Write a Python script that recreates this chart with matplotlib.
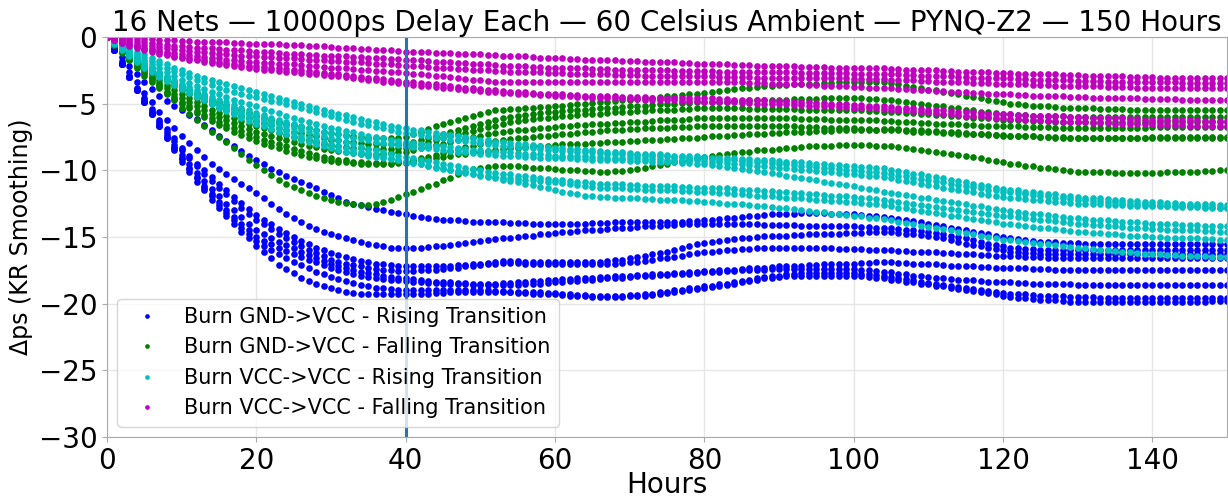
import numpy as np
import matplotlib.pyplot as plt

# Smoothed delay change (ps) of each net, one reading per hour from 0 to 150 h

# Burn GND->VCC, rising transition
gnd_rising = [
    [0.0, -0.8, -1.5, -2.2, -2.8, -3.4, -3.9, -4.4, -4.8, -5.2,
     -5.5, -5.85, -6.15, -6.6, -7.0, -7.4, -7.8, -8.2, -8.55, -8.9,
     -9.2, -9.55, -9.9, -10.15, -10.4, -10.65, -10.9, -11.1, -11.35, -11.6,
     -11.85, -12.1, -12.35, -12.5, -12.6, -12.75, -12.9, -13.0, -13.1, -13.2,
     -13.3, -13.4, -13.5, -13.55, -13.65, -13.7, -13.75, -13.75, -13.8, -13.85,
     -13.85, -13.9, -13.9, -13.9, -13.95, -13.95, -13.95, -14.0, -14.0, -14.0,
     -14.0, -14.0, -14.0, -14.0, -14.0, -13.95, -13.95, -13.95, -13.9, -13.9,
     -13.9, -13.9, -13.9, -13.9, -13.85, -13.85, -13.85, -13.85, -13.8, -13.8,
     -13.75, -13.7, -13.65, -13.6, -13.55, -13.5, -13.45, -13.4, -13.35, -13.3,
     -13.3, -13.25, -13.25, -13.2, -13.2, -13.2, -13.2, -13.25, -13.25, -13.3,
     -13.3, -13.35, -13.4, -13.45, -13.5, -13.6, -13.65, -13.7, -13.8, -13.9,
     -14.0, -14.1, -14.2, -14.3, -14.4, -14.5, -14.6, -14.7, -14.8, -14.9,
     -15.0, -15.1, -15.15, -15.2, -15.3, -15.35, -15.4, -15.4, -15.45, -15.45,
     -15.45, -15.5, -15.5, -15.5, -15.5, -15.5, -15.5, -15.5, -15.5, -15.5,
     -15.5, -15.5, -15.5, -15.5, -15.5, -15.5, -15.5, -15.5, -15.5, -15.5,
     -15.5],
    [0.0, -0.9, -1.8, -2.6, -3.4, -4.2, -4.9, -5.6, -6.2, -6.8,
     -7.4, -7.95, -8.5, -9.0, -9.5, -9.9, -10.3, -10.65, -11.0, -11.35,
     -11.7, -12.1, -12.5, -12.9, -13.25, -13.6, -13.9, -14.15, -14.4, -14.6,
     -14.8, -14.95, -15.1, -15.25, -15.4, -15.5, -15.6, -15.7, -15.8, -15.85,
     -15.85, -15.85, -15.8, -15.75, -15.7, -15.65, -15.6, -15.5, -15.45, -15.35,
     -15.3, -15.25, -15.15, -15.1, -15.05, -15.0, -14.95, -14.9, -14.8, -14.75,
     -14.7, -14.65, -14.6, -14.55, -14.5, -14.5, -14.45, -14.4, -14.35, -14.3,
     -14.3, -14.25, -14.2, -14.2, -14.15, -14.1, -14.1, -14.05, -14.0, -14.0,
     -14.0, -14.0, -14.0, -14.0, -14.05, -14.05, -14.05, -14.05, -14.1, -14.1,
     -14.1, -14.1, -14.1, -14.15, -14.15, -14.15, -14.15, -14.2, -14.2, -14.2,
     -14.2, -14.25, -14.25, -14.3, -14.3, -14.35, -14.4, -14.45, -14.5, -14.55,
     -14.6, -14.7, -14.8, -14.9, -15.0, -15.1, -15.2, -15.35, -15.5, -15.6,
     -15.7, -15.8, -15.85, -15.9, -15.9, -15.95, -15.95, -15.95, -16.0, -16.0,
     -16.0, -16.0, -16.0, -16.0, -16.0, -16.0, -16.0, -16.0, -16.0, -16.0,
     -16.0, -16.0, -16.0, -16.0, -16.0, -16.0, -16.0, -16.0, -16.0, -16.0,
     -16.0],
    [0.0, -1.0, -2.0, -2.9, -3.8, -4.6, -5.4, -6.2, -6.9, -7.6,
     -8.3, -8.9, -9.5, -10.0, -10.5, -11.0, -11.5, -12.0, -12.45, -12.9,
     -13.35, -13.7, -14.05, -14.4, -14.7, -15.0, -15.3, -15.55, -15.8, -16.0,
     -16.2, -16.35, -16.5, -16.65, -16.8, -16.9, -17.0, -17.05, -17.1, -17.15,
     -17.2, -17.2, -17.2, -17.2, -17.2, -17.2, -17.15, -17.1, -17.1, -17.05,
     -17.0, -16.95, -16.85, -16.8, -16.8, -16.8, -16.85, -16.85, -16.9, -16.9,
     -16.9, -16.9, -16.9, -16.9, -16.9, -16.9, -16.85, -16.8, -16.75, -16.7,
     -16.6, -16.5, -16.4, -16.3, -16.2, -16.1, -16.0, -15.85, -15.7, -15.5,
     -15.45, -15.4, -15.3, -15.25, -15.15, -15.1, -15.05, -15.0, -14.95, -14.9,
     -14.9, -14.9, -14.85, -14.85, -14.8, -14.8, -14.8, -14.75, -14.75, -14.7,
     -14.7, -14.7, -14.65, -14.65, -14.6, -14.65, -14.7, -14.75, -14.8, -14.85,
     -14.9, -15.0, -15.1, -15.25, -15.4, -15.5, -15.6, -15.7, -15.8, -15.9,
     -16.0, -16.1, -16.15, -16.2, -16.2, -16.25, -16.25, -16.25, -16.3, -16.3,
     -16.3, -16.3, -16.3, -16.3, -16.3, -16.3, -16.3, -16.3, -16.3, -16.3,
     -16.3, -16.3, -16.3, -16.3, -16.3, -16.3, -16.3, -16.3, -16.3, -16.3,
     -16.3],
    [0.0, -1.0, -2.0, -3.0, -3.9, -4.75, -5.55, -6.35, -7.1, -7.8,
     -8.5, -9.1, -9.7, -10.25, -10.8, -11.3, -11.8, -12.3, -12.8, -13.25,
     -13.7, -14.05, -14.4, -14.75, -15.1, -15.4, -15.7, -15.95, -16.2, -16.45,
     -16.7, -16.85, -17.0, -17.1, -17.2, -17.3, -17.4, -17.45, -17.5, -17.55,
     -17.55, -17.55, -17.5, -17.5, -17.45, -17.4, -17.35, -17.3, -17.2, -17.15,
     -17.1, -17.05, -17.0, -16.95, -16.95, -16.95, -17.0, -17.0, -17.0, -17.0,
     -17.05, -17.05, -17.05, -17.05, -17.05, -17.05, -17.05, -17.0, -17.0, -16.95,
     -16.9, -16.85, -16.8, -16.7, -16.6, -16.55, -16.5, -16.4, -16.3, -16.2,
     -16.15, -16.1, -16.05, -16.0, -15.95, -15.9, -15.9, -15.85, -15.85, -15.8,
     -15.8, -15.8, -15.8, -15.8, -15.85, -15.85, -15.85, -15.85, -15.9, -15.9,
     -15.9, -15.9, -15.95, -15.95, -16.0, -16.0, -16.05, -16.05, -16.1, -16.1,
     -16.15, -16.15, -16.2, -16.2, -16.25, -16.3, -16.3, -16.35, -16.35, -16.4,
     -16.4, -16.45, -16.45, -16.5, -16.5, -16.5, -16.55, -16.55, -16.55, -16.6,
     -16.6, -16.6, -16.6, -16.6, -16.6, -16.6, -16.6, -16.6, -16.6, -16.6,
     -16.6, -16.6, -16.6, -16.6, -16.6, -16.6, -16.6, -16.6, -16.6, -16.6,
     -16.6],
    [0.0, -1.0, -2.0, -3.0, -3.95, -4.85, -5.7, -6.55, -7.35, -8.1,
     -8.85, -9.55, -10.2, -10.8, -11.4, -11.95, -12.5, -13.0, -13.5, -14.0,
     -14.5, -14.8, -15.1, -15.35, -15.6, -15.85, -16.1, -16.35, -16.6, -16.8,
     -17.0, -17.15, -17.3, -17.45, -17.6, -17.7, -17.8, -17.9, -18.0, -18.05,
     -18.1, -18.15, -18.2, -18.3, -18.35, -18.4, -18.4, -18.45, -18.45, -18.5,
     -18.5, -18.5, -18.5, -18.45, -18.45, -18.4, -18.35, -18.3, -18.3, -18.25,
     -18.2, -18.15, -18.15, -18.1, -18.1, -18.05, -18.0, -18.0, -17.95, -17.95,
     -17.9, -17.85, -17.85, -17.8, -17.8, -17.75, -17.7, -17.7, -17.65, -17.6,
     -17.55, -17.55, -17.5, -17.45, -17.45, -17.4, -17.35, -17.3, -17.3, -17.25,
     -17.2, -17.2, -17.15, -17.15, -17.1, -17.1, -17.05, -17.05, -17.0, -17.0,
     -17.0, -16.95, -16.95, -16.9, -16.9, -16.9, -16.95, -16.95, -17.0, -17.0,
     -17.05, -17.05, -17.1, -17.15, -17.15, -17.2, -17.2, -17.25, -17.25, -17.3,
     -17.3, -17.3, -17.35, -17.35, -17.4, -17.4, -17.4, -17.45, -17.45, -17.45,
     -17.5, -17.5, -17.5, -17.5, -17.5, -17.5, -17.5, -17.5, -17.5, -17.5,
     -17.5, -17.5, -17.5, -17.5, -17.5, -17.5, -17.5, -17.5, -17.5, -17.5,
     -17.5],
    [0.0, -1.0, -2.0, -3.0, -4.0, -4.9, -5.8, -6.65, -7.5, -8.3,
     -9.05, -9.8, -10.5, -11.15, -11.8, -12.4, -13.0, -13.5, -14.0, -14.5,
     -15.0, -15.3, -15.55, -15.8, -16.05, -16.3, -16.5, -16.7, -16.9, -17.1,
     -17.3, -17.45, -17.6, -17.75, -17.9, -18.0, -18.1, -18.15, -18.2, -18.25,
     -18.3, -18.35, -18.4, -18.45, -18.45, -18.5, -18.5, -18.55, -18.55, -18.6,
     -18.6, -18.6, -18.6, -18.6, -18.6, -18.6, -18.55, -18.5, -18.5, -18.45,
     -18.4, -18.35, -18.3, -18.3, -18.25, -18.2, -18.15, -18.1, -18.1, -18.05,
     -18.0, -17.95, -17.95, -17.9, -17.85, -17.85, -17.8, -17.8, -17.75, -17.7,
     -17.65, -17.65, -17.6, -17.55, -17.55, -17.5, -17.5, -17.45, -17.45, -17.4,
     -17.4, -17.4, -17.4, -17.4, -17.4, -17.4, -17.4, -17.4, -17.4, -17.4,
     -17.4, -17.45, -17.5, -17.55, -17.6, -17.65, -17.75, -17.8, -17.9, -17.95,
     -18.0, -18.05, -18.1, -18.15, -18.2, -18.2, -18.25, -18.3, -18.35, -18.35,
     -18.4, -18.4, -18.45, -18.45, -18.5, -18.5, -18.5, -18.55, -18.55, -18.55,
     -18.6, -18.6, -18.6, -18.6, -18.6, -18.6, -18.6, -18.6, -18.6, -18.6,
     -18.6, -18.6, -18.6, -18.6, -18.6, -18.6, -18.6, -18.6, -18.6, -18.6,
     -18.6],
    [0.0, -1.0, -2.0, -3.0, -4.0, -4.9, -5.8, -6.7, -7.55, -8.35,
     -9.15, -9.9, -10.6, -11.3, -11.95, -12.6, -13.2, -13.75, -14.3, -14.8,
     -15.3, -15.65, -15.95, -16.25, -16.55, -16.85, -17.1, -17.35, -17.6, -17.8,
     -18.0, -18.15, -18.3, -18.45, -18.6, -18.7, -18.8, -18.85, -18.9, -18.95,
     -19.0, -19.0, -19.0, -19.0, -19.0, -19.0, -19.0, -19.0, -19.0, -19.0,
     -19.0, -19.0, -19.05, -19.05, -19.1, -19.1, -19.1, -19.15, -19.15, -19.2,
     -19.2, -19.25, -19.3, -19.35, -19.35, -19.4, -19.4, -19.4, -19.4, -19.4,
     -19.35, -19.35, -19.3, -19.25, -19.15, -19.1, -19.0, -18.95, -18.85, -18.8,
     -18.7, -18.65, -18.55, -18.5, -18.4, -18.3, -18.2, -18.1, -18.0, -17.95,
     -17.9, -17.8, -17.75, -17.7, -17.7, -17.7, -17.7, -17.7, -17.7, -17.7,
     -17.7, -17.75, -17.8, -17.85, -17.9, -18.0, -18.1, -18.15, -18.25, -18.35,
     -18.45, -18.5, -18.6, -18.7, -18.75, -18.85, -18.9, -19.0, -19.05, -19.1,
     -19.2, -19.25, -19.3, -19.3, -19.35, -19.4, -19.4, -19.45, -19.45, -19.5,
     -19.5, -19.5, -19.5, -19.55, -19.55, -19.55, -19.6, -19.6, -19.6, -19.6,
     -19.6, -19.6, -19.6, -19.6, -19.6, -19.6, -19.6, -19.6, -19.6, -19.6,
     -19.6],
    [0.0, -1.0, -2.0, -3.0, -4.0, -4.9, -5.8, -6.7, -7.6, -8.5,
     -9.35, -10.1, -10.85, -11.5, -12.2, -12.8, -13.4, -14.0, -14.6, -15.1,
     -15.7, -16.1, -16.6, -17.1, -17.4, -17.7, -18.1, -18.3, -18.5, -18.7,
     -18.85, -19.0, -19.1, -19.2, -19.25, -19.3, -19.3, -19.3, -19.3, -19.3,
     -19.3, -19.3, -19.25, -19.25, -19.2, -19.2, -19.15, -19.15, -19.1, -19.1,
     -19.1, -19.1, -19.1, -19.15, -19.15, -19.2, -19.2, -19.25, -19.25, -19.3,
     -19.3, -19.35, -19.4, -19.4, -19.45, -19.5, -19.5, -19.5, -19.5, -19.5,
     -19.45, -19.45, -19.4, -19.35, -19.3, -19.2, -19.1, -19.05, -18.95, -18.9,
     -18.8, -18.75, -18.65, -18.6, -18.5, -18.4, -18.3, -18.2, -18.1, -18.05,
     -18.0, -17.95, -17.9, -17.9, -17.9, -17.9, -17.9, -17.9, -17.9, -17.9,
     -17.9, -17.95, -18.0, -18.05, -18.1, -18.2, -18.25, -18.35, -18.4, -18.5,
     -18.55, -18.65, -18.7, -18.8, -18.9, -18.95, -19.05, -19.1, -19.2, -19.3,
     -19.4, -19.5, -19.55, -19.6, -19.65, -19.7, -19.7, -19.75, -19.8, -19.85,
     -19.9, -19.9, -19.9, -19.9, -19.9, -19.9, -19.9, -19.9, -19.9, -19.9,
     -19.9, -19.9, -19.9, -19.9, -19.9, -19.85, -19.85, -19.85, -19.8, -19.8,
     -19.8],
]

# Burn GND->VCC, falling transition
gnd_falling = [
    [0.0, -0.4, -0.8, -1.2, -1.6, -2.0, -2.35, -2.7, -3.05, -3.4,
     -3.7, -3.95, -4.2, -4.45, -4.7, -4.9, -5.1, -5.3, -5.5, -5.7,
     -5.9, -6.05, -6.2, -6.35, -6.5, -6.6, -6.75, -6.85, -6.95, -7.1,
     -7.2, -7.3, -7.35, -7.45, -7.5, -7.55, -7.6, -7.6, -7.6, -7.55,
     -7.5, -7.3, -7.1, -6.9, -6.7, -6.55, -6.4, -6.25, -6.1, -5.95,
     -5.8, -5.65, -5.5, -5.45, -5.4, -5.4, -5.35, -5.3, -5.25, -5.25,
     -5.2, -5.15, -5.1, -5.05, -5.0, -4.95, -4.9, -4.85, -4.8, -4.75,
     -4.7, -4.65, -4.6, -4.55, -4.5, -4.45, -4.4, -4.35, -4.3, -4.25,
     -4.2, -4.1, -4.05, -3.95, -3.9, -3.85, -3.8, -3.75, -3.7, -3.65,
     -3.6, -3.6, -3.55, -3.55, -3.5, -3.5, -3.45, -3.45, -3.4, -3.4,
     -3.4, -3.4, -3.35, -3.35, -3.35, -3.45, -3.55, -3.65, -3.75, -3.85,
     -3.95, -4.0, -4.1, -4.2, -4.3, -4.4, -4.5, -4.6, -4.7, -4.8,
     -4.9, -5.0, -5.05, -5.1, -5.15, -5.2, -5.2, -5.25, -5.3, -5.3,
     -5.35, -5.35, -5.35, -5.4, -5.4, -5.4, -5.4, -5.45, -5.45, -5.45,
     -5.45, -5.45, -5.5, -5.5, -5.5, -5.5, -5.5, -5.5, -5.5, -5.5,
     -5.5],
    [0.0, -0.45, -0.9, -1.35, -1.8, -2.2, -2.6, -2.95, -3.3, -3.65,
     -4.0, -4.3, -4.55, -4.8, -5.05, -5.3, -5.5, -5.7, -5.9, -6.1,
     -6.3, -6.45, -6.6, -6.8, -6.95, -7.1, -7.2, -7.35, -7.45, -7.6,
     -7.7, -7.75, -7.85, -7.9, -7.95, -8.0, -8.0, -8.05, -8.05, -8.05,
     -8.0, -7.9, -7.75, -7.6, -7.45, -7.3, -7.15, -7.0, -6.85, -6.65,
     -6.5, -6.35, -6.25, -6.1, -6.0, -5.9, -5.85, -5.75, -5.7, -5.65,
     -5.6, -5.55, -5.5, -5.5, -5.45, -5.4, -5.35, -5.3, -5.3, -5.25,
     -5.2, -5.15, -5.15, -5.1, -5.05, -5.05, -5.0, -4.95, -4.95, -4.9,
     -4.9, -4.9, -4.85, -4.85, -4.8, -4.8, -4.75, -4.75, -4.7, -4.7,
     -4.7, -4.7, -4.65, -4.65, -4.65, -4.65, -4.6, -4.6, -4.6, -4.6,
     -4.6, -4.6, -4.65, -4.65, -4.7, -4.75, -4.8, -4.9, -4.95, -5.0,
     -5.1, -5.15, -5.2, -5.3, -5.35, -5.45, -5.5, -5.6, -5.65, -5.7,
     -5.75, -5.8, -5.85, -5.85, -5.9, -5.9, -5.95, -5.95, -5.95, -6.0,
     -6.0, -6.0, -6.0, -6.0, -6.0, -6.0, -6.0, -6.0, -6.0, -6.0,
     -6.0, -6.0, -6.0, -6.0, -6.0, -6.0, -6.0, -6.0, -6.0, -6.0,
     -6.0],
    [0.0, -0.5, -1.0, -1.45, -1.95, -2.4, -2.8, -3.2, -3.6, -3.95,
     -4.3, -4.6, -4.9, -5.2, -5.45, -5.7, -5.9, -6.1, -6.3, -6.5,
     -6.7, -6.85, -7.0, -7.2, -7.35, -7.5, -7.65, -7.75, -7.9, -8.0,
     -8.1, -8.15, -8.25, -8.3, -8.35, -8.4, -8.4, -8.4, -8.4, -8.35,
     -8.3, -8.15, -8.0, -7.9, -7.75, -7.6, -7.45, -7.3, -7.2, -7.05,
     -6.9, -6.75, -6.65, -6.5, -6.4, -6.3, -6.25, -6.15, -6.1, -6.05,
     -6.0, -5.95, -5.9, -5.85, -5.8, -5.8, -5.75, -5.7, -5.65, -5.6,
     -5.6, -5.55, -5.55, -5.5, -5.5, -5.45, -5.45, -5.4, -5.4, -5.35,
     -5.35, -5.35, -5.35, -5.35, -5.35, -5.35, -5.4, -5.4, -5.4, -5.4,
     -5.4, -5.4, -5.4, -5.45, -5.45, -5.45, -5.45, -5.5, -5.5, -5.5,
     -5.5, -5.5, -5.55, -5.55, -5.6, -5.6, -5.65, -5.7, -5.7, -5.75,
     -5.8, -5.85, -5.85, -5.9, -5.95, -6.0, -6.05, -6.1, -6.1, -6.15,
     -6.2, -6.2, -6.25, -6.25, -6.3, -6.3, -6.3, -6.35, -6.35, -6.35,
     -6.35, -6.35, -6.35, -6.35, -6.35, -6.35, -6.35, -6.35, -6.35, -6.35,
     -6.35, -6.35, -6.35, -6.35, -6.35, -6.35, -6.35, -6.35, -6.35, -6.35,
     -6.35],
    [0.0, -0.55, -1.05, -1.6, -2.1, -2.6, -3.05, -3.45, -3.85, -4.25,
     -4.6, -4.9, -5.2, -5.5, -5.75, -6.0, -6.25, -6.45, -6.7, -6.9,
     -7.1, -7.25, -7.4, -7.6, -7.75, -7.9, -8.0, -8.15, -8.25, -8.4,
     -8.5, -8.55, -8.65, -8.7, -8.75, -8.8, -8.8, -8.75, -8.7, -8.65,
     -8.6, -8.5, -8.35, -8.25, -8.1, -8.0, -7.85, -7.75, -7.6, -7.5,
     -7.4, -7.3, -7.2, -7.15, -7.05, -7.0, -6.95, -6.9, -6.85, -6.8,
     -6.75, -6.7, -6.65, -6.6, -6.6, -6.55, -6.5, -6.5, -6.45, -6.45,
     -6.4, -6.35, -6.35, -6.3, -6.25, -6.25, -6.2, -6.2, -6.15, -6.1,
     -6.1, -6.1, -6.1, -6.1, -6.1, -6.1, -6.1, -6.1, -6.1, -6.1,
     -6.1, -6.1, -6.1, -6.15, -6.15, -6.15, -6.15, -6.2, -6.2, -6.2,
     -6.2, -6.2, -6.25, -6.25, -6.3, -6.3, -6.35, -6.4, -6.4, -6.45,
     -6.45, -6.5, -6.5, -6.55, -6.55, -6.6, -6.6, -6.65, -6.65, -6.7,
     -6.7, -6.7, -6.7, -6.75, -6.75, -6.75, -6.75, -6.8, -6.8, -6.8,
     -6.8, -6.8, -6.8, -6.8, -6.8, -6.8, -6.8, -6.8, -6.8, -6.8,
     -6.75, -6.75, -6.75, -6.75, -6.75, -6.75, -6.75, -6.75, -6.75, -6.75,
     -6.75],
    [0.0, -0.6, -1.15, -1.7, -2.25, -2.8, -3.25, -3.7, -4.1, -4.5,
     -4.9, -5.2, -5.55, -5.85, -6.1, -6.4, -6.6, -6.85, -7.05, -7.3,
     -7.5, -7.7, -7.85, -8.05, -8.2, -8.4, -8.55, -8.7, -8.85, -9.0,
     -9.1, -9.2, -9.25, -9.35, -9.4, -9.45, -9.45, -9.45, -9.45, -9.4,
     -9.4, -9.25, -9.1, -9.0, -8.85, -8.7, -8.55, -8.4, -8.25, -8.15,
     -8.0, -7.9, -7.8, -7.75, -7.65, -7.6, -7.55, -7.5, -7.45, -7.4,
     -7.35, -7.3, -7.25, -7.2, -7.15, -7.1, -7.05, -7.0, -6.95, -6.95,
     -6.9, -6.9, -6.85, -6.85, -6.8, -6.8, -6.75, -6.75, -6.75, -6.7,
     -6.7, -6.7, -6.7, -6.7, -6.7, -6.7, -6.7, -6.7, -6.7, -6.7,
     -6.7, -6.7, -6.7, -6.75, -6.75, -6.75, -6.8, -6.8, -6.8, -6.85,
     -6.85, -6.9, -6.9, -6.95, -6.95, -7.0, -7.0, -7.05, -7.1, -7.1,
     -7.15, -7.15, -7.2, -7.2, -7.25, -7.25, -7.3, -7.3, -7.35, -7.35,
     -7.4, -7.4, -7.4, -7.45, -7.45, -7.5, -7.5, -7.5, -7.5, -7.55,
     -7.55, -7.55, -7.55, -7.55, -7.55, -7.55, -7.55, -7.55, -7.55, -7.55,
     -7.5, -7.5, -7.5, -7.5, -7.5, -7.5, -7.5, -7.5, -7.5, -7.5,
     -7.5],
    [0.0, -0.6, -1.2, -1.75, -2.35, -2.9, -3.4, -3.85, -4.25, -4.65,
     -5.0, -5.35, -5.7, -6.0, -6.3, -6.6, -6.85, -7.1, -7.35, -7.6,
     -7.8, -8.0, -8.2, -8.35, -8.55, -8.7, -8.85, -9.0, -9.1, -9.2,
     -9.3, -9.35, -9.4, -9.45, -9.5, -9.5, -9.5, -9.5, -9.5, -9.45,
     -9.45, -9.35, -9.25, -9.2, -9.1, -9.0, -8.9, -8.8, -8.75, -8.65,
     -8.6, -8.55, -8.5, -8.4, -8.35, -8.3, -8.25, -8.2, -8.15, -8.15,
     -8.1, -8.05, -8.05, -8.0, -8.0, -7.95, -7.95, -7.9, -7.9, -7.85,
     -7.8, -7.8, -7.75, -7.75, -7.7, -7.65, -7.65, -7.6, -7.55, -7.55,
     -7.5, -7.45, -7.45, -7.4, -7.35, -7.35, -7.3, -7.3, -7.25, -7.2,
     -7.2, -7.15, -7.15, -7.1, -7.1, -7.05, -7.05, -7.05, -7.0, -7.0,
     -7.0, -6.95, -6.95, -6.95, -6.9, -6.9, -6.9, -6.95, -6.95, -7.0,
     -7.05, -7.05, -7.1, -7.15, -7.15, -7.2, -7.25, -7.3, -7.3, -7.35,
     -7.35, -7.4, -7.4, -7.45, -7.45, -7.5, -7.5, -7.55, -7.55, -7.55,
     -7.6, -7.6, -7.6, -7.6, -7.6, -7.6, -7.6, -7.6, -7.6, -7.6,
     -7.6, -7.6, -7.6, -7.6, -7.6, -7.6, -7.6, -7.6, -7.6, -7.6,
     -7.6],
    [0.0, -0.45, -0.9, -1.4, -1.9, -2.45, -3.0, -3.6, -4.2, -4.75,
     -5.3, -5.75, -6.2, -6.65, -7.1, -7.5, -7.9, -8.35, -8.8, -9.2,
     -9.6, -10.0, -10.35, -10.7, -11.0, -11.25, -11.5, -11.7, -11.9, -12.1,
     -12.2, -12.35, -12.45, -12.55, -12.6, -12.6, -12.5, -12.4, -12.2, -12.0,
     -11.8, -11.6, -11.4, -11.2, -11.0, -10.75, -10.55, -10.3, -10.1, -9.9,
     -9.8, -9.75, -9.7, -9.7, -9.7, -9.7, -9.75, -9.8, -9.8, -9.85,
     -9.9, -9.95, -9.95, -10.0, -10.05, -10.05, -10.1, -10.1, -10.05, -10.05,
     -10.0, -9.9, -9.8, -9.7, -9.6, -9.5, -9.4, -9.3, -9.2, -9.1,
     -9.0, -8.9, -8.85, -8.75, -8.7, -8.65, -8.6, -8.5, -8.45, -8.45,
     -8.4, -8.35, -8.3, -8.25, -8.2, -8.2, -8.15, -8.15, -8.1, -8.1,
     -8.1, -8.1, -8.1, -8.15, -8.15, -8.2, -8.25, -8.3, -8.4, -8.5,
     -8.55, -8.6, -8.7, -8.8, -8.85, -8.95, -9.0, -9.1, -9.2, -9.3,
     -9.4, -9.5, -9.55, -9.65, -9.7, -9.8, -9.85, -9.9, -10.0, -10.05,
     -10.1, -10.1, -10.15, -10.15, -10.15, -10.2, -10.2, -10.2, -10.2, -10.2,
     -10.2, -10.2, -10.15, -10.15, -10.1, -10.1, -10.1, -10.05, -10.05, -10.0,
     -10.0],
]

# Burn VCC->VCC, rising transition
vcc_rising = [
    [0.0, -0.3, -0.6, -0.85, -1.1, -1.3, -1.55, -1.8, -2.05, -2.3,
     -2.5, -2.7, -2.9, -3.05, -3.25, -3.4, -3.55, -3.7, -3.85, -3.95,
     -4.1, -4.25, -4.4, -4.55, -4.75, -4.9, -5.05, -5.2, -5.3, -5.45,
     -5.6, -5.75, -5.85, -6.0, -6.15, -6.3, -6.4, -6.5, -6.65, -6.75,
     -6.85, -6.95, -7.0, -7.1, -7.2, -7.25, -7.35, -7.45, -7.5, -7.6,
     -7.7, -7.75, -7.85, -7.9, -7.95, -8.0, -8.05, -8.1, -8.2, -8.25,
     -8.3, -8.35, -8.4, -8.4, -8.45, -8.5, -8.55, -8.6, -8.6, -8.65,
     -8.7, -8.75, -8.75, -8.8, -8.8, -8.85, -8.9, -8.9, -8.95, -8.95,
     -9.0, -9.05, -9.05, -9.1, -9.1, -9.15, -9.15, -9.2, -9.25, -9.25,
     -9.3, -9.35, -9.4, -9.4, -9.45, -9.5, -9.55, -9.6, -9.6, -9.65,
     -9.7, -9.75, -9.75, -9.8, -9.85, -9.95, -10.05, -10.15, -10.25, -10.3,
     -10.4, -10.5, -10.6, -10.7, -10.8, -10.9, -11.0, -11.1, -11.2, -11.3,
     -11.4, -11.45, -11.5, -11.6, -11.65, -11.7, -11.75, -11.8, -11.9, -11.95,
     -12.0, -12.05, -12.1, -12.1, -12.15, -12.2, -12.25, -12.3, -12.3, -12.35,
     -12.4, -12.4, -12.45, -12.45, -12.5, -12.5, -12.5, -12.55, -12.55, -12.6,
     -12.6],
    [0.0, -0.35, -0.65, -0.95, -1.25, -1.5, -1.8, -2.05, -2.3, -2.55,
     -2.8, -3.0, -3.2, -3.4, -3.6, -3.8, -3.95, -4.1, -4.25, -4.4,
     -4.5, -4.65, -4.8, -4.9, -5.05, -5.2, -5.3, -5.45, -5.6, -5.75,
     -5.9, -6.05, -6.2, -6.35, -6.5, -6.6, -6.75, -6.85, -7.0, -7.1,
     -7.2, -7.3, -7.35, -7.45, -7.55, -7.6, -7.7, -7.75, -7.8, -7.9,
     -7.95, -8.05, -8.1, -8.15, -8.2, -8.25, -8.3, -8.35, -8.4, -8.45,
     -8.5, -8.55, -8.55, -8.6, -8.65, -8.65, -8.7, -8.75, -8.75, -8.8,
     -8.85, -8.85, -8.9, -8.9, -8.95, -8.95, -9.0, -9.0, -9.05, -9.05,
     -9.1, -9.15, -9.2, -9.2, -9.25, -9.3, -9.35, -9.4, -9.4, -9.45,
     -9.5, -9.55, -9.6, -9.65, -9.7, -9.75, -9.8, -9.85, -9.9, -9.95,
     -10.0, -10.05, -10.1, -10.15, -10.2, -10.3, -10.4, -10.45, -10.55, -10.65,
     -10.75, -10.8, -10.9, -11.0, -11.1, -11.15, -11.25, -11.35, -11.45, -11.5,
     -11.6, -11.65, -11.7, -11.8, -11.85, -11.9, -11.95, -12.05, -12.1, -12.15,
     -12.2, -12.25, -12.3, -12.3, -12.35, -12.4, -12.45, -12.5, -12.5, -12.55,
     -12.6, -12.6, -12.65, -12.65, -12.7, -12.7, -12.7, -12.75, -12.75, -12.8,
     -12.8],
    [0.0, -0.4, -0.75, -1.1, -1.4, -1.7, -2.0, -2.35, -2.65, -2.95,
     -3.2, -3.45, -3.65, -3.9, -4.1, -4.3, -4.5, -4.7, -4.85, -5.05,
     -5.2, -5.4, -5.55, -5.7, -5.9, -6.05, -6.2, -6.35, -6.5, -6.65,
     -6.8, -6.9, -7.05, -7.15, -7.3, -7.4, -7.5, -7.6, -7.7, -7.8,
     -7.9, -7.95, -8.0, -8.1, -8.15, -8.2, -8.25, -8.3, -8.4, -8.45,
     -8.5, -8.55, -8.6, -8.65, -8.65, -8.7, -8.75, -8.8, -8.8, -8.85,
     -8.9, -8.9, -8.95, -8.95, -8.95, -9.0, -9.0, -9.05, -9.05, -9.05,
     -9.1, -9.1, -9.15, -9.15, -9.15, -9.2, -9.2, -9.25, -9.25, -9.25,
     -9.3, -9.35, -9.4, -9.45, -9.5, -9.55, -9.6, -9.65, -9.7, -9.75,
     -9.8, -9.85, -9.9, -9.95, -10.0, -10.05, -10.1, -10.15, -10.2, -10.25,
     -10.3, -10.35, -10.4, -10.45, -10.5, -10.6, -10.7, -10.8, -10.9, -11.0,
     -11.1, -11.2, -11.3, -11.4, -11.5, -11.55, -11.65, -11.75, -11.85, -11.9,
     -12.0, -12.05, -12.1, -12.15, -12.2, -12.25, -12.3, -12.35, -12.4, -12.45,
     -12.5, -12.5, -12.55, -12.55, -12.6, -12.6, -12.6, -12.65, -12.65, -12.7,
     -12.7, -12.7, -12.7, -12.75, -12.75, -12.75, -12.75, -12.8, -12.8, -12.8,
     -12.8],
    [0.0, -0.45, -0.85, -1.2, -1.55, -1.9, -2.25, -2.6, -2.9, -3.2,
     -3.5, -3.75, -4.0, -4.25, -4.5, -4.7, -4.9, -5.1, -5.3, -5.5,
     -5.7, -5.85, -6.05, -6.2, -6.4, -6.55, -6.7, -6.85, -6.95, -7.1,
     -7.2, -7.3, -7.4, -7.55, -7.65, -7.75, -7.85, -7.95, -8.05, -8.1,
     -8.2, -8.25, -8.3, -8.35, -8.4, -8.5, -8.55, -8.6, -8.65, -8.7,
     -8.75, -8.8, -8.85, -8.9, -8.9, -8.95, -9.0, -9.0, -9.05, -9.05,
     -9.1, -9.1, -9.1, -9.15, -9.15, -9.2, -9.2, -9.2, -9.25, -9.25,
     -9.3, -9.3, -9.3, -9.35, -9.35, -9.4, -9.4, -9.45, -9.45, -9.5,
     -9.5, -9.6, -9.65, -9.75, -9.8, -9.9, -9.95, -10.05, -10.1, -10.2,
     -10.3, -10.4, -10.5, -10.6, -10.65, -10.75, -10.85, -10.95, -11.05, -11.1,
     -11.2, -11.3, -11.4, -11.5, -11.6, -11.7, -11.75, -11.85, -11.95, -12.05,
     -12.1, -12.2, -12.3, -12.4, -12.45, -12.55, -12.65, -12.7, -12.8, -12.9,
     -13.0, -13.05, -13.1, -13.2, -13.25, -13.3, -13.35, -13.45, -13.5, -13.55,
     -13.6, -13.65, -13.7, -13.7, -13.75, -13.8, -13.85, -13.9, -13.9, -13.95,
     -14.0, -14.0, -14.05, -14.05, -14.1, -14.1, -14.1, -14.15, -14.15, -14.2,
     -14.2],
    [0.0, -0.45, -0.9, -1.3, -1.65, -2.0, -2.35, -2.7, -3.05, -3.4,
     -3.7, -3.95, -4.25, -4.5, -4.75, -5.0, -5.2, -5.4, -5.6, -5.8,
     -6.0, -6.15, -6.35, -6.5, -6.7, -6.85, -7.0, -7.15, -7.3, -7.45,
     -7.6, -7.75, -7.9, -8.05, -8.25, -8.4, -8.5, -8.65, -8.75, -8.9,
     -9.0, -9.1, -9.2, -9.3, -9.4, -9.5, -9.6, -9.7, -9.8, -9.9,
     -10.0, -10.1, -10.2, -10.25, -10.3, -10.4, -10.45, -10.5, -10.55, -10.65,
     -10.7, -10.75, -10.8, -10.85, -10.9, -10.95, -11.0, -11.0, -11.05, -11.05,
     -11.1, -11.1, -11.15, -11.15, -11.2, -11.2, -11.2, -11.25, -11.25, -11.3,
     -11.3, -11.3, -11.35, -11.35, -11.4, -11.45, -11.45, -11.5, -11.55, -11.55,
     -11.6, -11.65, -11.7, -11.7, -11.75, -11.8, -11.85, -11.9, -11.9, -11.95,
     -12.0, -12.05, -12.1, -12.15, -12.2, -12.3, -12.35, -12.45, -12.5, -12.6,
     -12.65, -12.75, -12.8, -12.9, -12.95, -13.05, -13.1, -13.2, -13.25, -13.35,
     -13.4, -13.45, -13.5, -13.6, -13.65, -13.7, -13.75, -13.8, -13.9, -13.95,
     -14.0, -14.05, -14.1, -14.1, -14.15, -14.2, -14.25, -14.3, -14.3, -14.35,
     -14.4, -14.4, -14.45, -14.45, -14.5, -14.5, -14.5, -14.55, -14.55, -14.6,
     -14.6],
    [0.0, -0.45, -0.9, -1.35, -1.75, -2.1, -2.45, -2.8, -3.15, -3.5,
     -3.8, -4.05, -4.35, -4.6, -4.85, -5.1, -5.35, -5.55, -5.8, -6.0,
     -6.2, -6.4, -6.6, -6.8, -7.0, -7.2, -7.4, -7.55, -7.7, -7.85,
     -8.0, -8.15, -8.3, -8.45, -8.6, -8.7, -8.85, -9.0, -9.1, -9.25,
     -9.35, -9.45, -9.55, -9.65, -9.75, -9.85, -9.95, -10.05, -10.15, -10.25,
     -10.35, -10.4, -10.5, -10.55, -10.6, -10.65, -10.7, -10.75, -10.8, -10.85,
     -10.9, -10.95, -11.05, -11.1, -11.15, -11.25, -11.3, -11.3, -11.35, -11.35,
     -11.4, -11.4, -11.45, -11.45, -11.5, -11.5, -11.5, -11.55, -11.55, -11.6,
     -11.6, -11.65, -11.7, -11.7, -11.75, -11.8, -11.85, -11.9, -11.9, -11.95,
     -12.0, -12.05, -12.1, -12.1, -12.15, -12.2, -12.25, -12.3, -12.3, -12.35,
     -12.4, -12.45, -12.5, -12.55, -12.6, -12.7, -12.8, -12.85, -12.95, -13.05,
     -13.1, -13.2, -13.3, -13.4, -13.45, -13.55, -13.65, -13.7, -13.8, -13.9,
     -14.0, -14.05, -14.1, -14.2, -14.25, -14.3, -14.35, -14.4, -14.5, -14.55,
     -14.6, -14.65, -14.7, -14.7, -14.75, -14.8, -14.85, -14.9, -14.9, -14.95,
     -15.0, -15.0, -15.05, -15.05, -15.1, -15.1, -15.1, -15.15, -15.15, -15.2,
     -15.2],
    [0.0, -0.5, -1.0, -1.45, -1.9, -2.3, -2.65, -3.0, -3.3, -3.6,
     -3.9, -4.2, -4.5, -4.75, -5.05, -5.3, -5.55, -5.8, -6.05, -6.3,
     -6.5, -6.7, -6.9, -7.1, -7.3, -7.5, -7.7, -7.85, -8.0, -8.15,
     -8.3, -8.45, -8.6, -8.7, -8.8, -8.9, -9.0, -9.1, -9.15, -9.25,
     -9.35, -9.45, -9.55, -9.7, -9.8, -9.9, -10.0, -10.1, -10.2, -10.3,
     -10.4, -10.5, -10.6, -10.7, -10.8, -10.9, -11.0, -11.1, -11.25, -11.35,
     -11.5, -11.6, -11.7, -11.8, -11.9, -11.95, -12.0, -12.0, -12.05, -12.05,
     -12.1, -12.1, -12.15, -12.15, -12.2, -12.2, -12.25, -12.25, -12.3, -12.3,
     -12.35, -12.4, -12.45, -12.5, -12.5, -12.55, -12.6, -12.65, -12.7, -12.75,
     -12.8, -12.85, -12.9, -13.0, -13.05, -13.1, -13.15, -13.25, -13.3, -13.35,
     -13.4, -13.45, -13.55, -13.6, -13.65, -13.75, -13.85, -13.95, -14.05, -14.15,
     -14.25, -14.3, -14.4, -14.5, -14.6, -14.7, -14.8, -14.9, -15.0, -15.1,
     -15.2, -15.25, -15.3, -15.4, -15.45, -15.5, -15.55, -15.6, -15.7, -15.75,
     -15.8, -15.85, -15.9, -15.95, -16.0, -16.05, -16.1, -16.15, -16.2, -16.25,
     -16.3, -16.3, -16.35, -16.35, -16.4, -16.4, -16.45, -16.45, -16.5, -16.5,
     -16.5],
]

# Burn VCC->VCC, falling transition
vcc_falling = [
    [0.0, -0.05, -0.05, -0.1, -0.1, -0.15, -0.15, -0.2, -0.2, -0.25,
     -0.3, -0.3, -0.35, -0.35, -0.4, -0.4, -0.4, -0.45, -0.45, -0.5,
     -0.5, -0.5, -0.55, -0.55, -0.6, -0.6, -0.6, -0.65, -0.7, -0.7,
     -0.75, -0.8, -0.8, -0.85, -0.9, -0.9, -0.95, -1.0, -1.0, -1.05,
     -1.1, -1.1, -1.15, -1.15, -1.2, -1.2, -1.2, -1.25, -1.25, -1.3,
     -1.3, -1.35, -1.35, -1.4, -1.4, -1.45, -1.45, -1.5, -1.55, -1.55,
     -1.6, -1.6, -1.65, -1.65, -1.7, -1.7, -1.7, -1.75, -1.75, -1.8,
     -1.8, -1.8, -1.85, -1.85, -1.9, -1.9, -1.9, -1.95, -1.95, -2.0,
     -2.0, -2.0, -2.05, -2.05, -2.1, -2.1, -2.1, -2.15, -2.15, -2.2,
     -2.2, -2.2, -2.2, -2.25, -2.25, -2.25, -2.25, -2.3, -2.3, -2.3,
     -2.3, -2.3, -2.35, -2.35, -2.35, -2.4, -2.4, -2.45, -2.45, -2.5,
     -2.5, -2.5, -2.55, -2.55, -2.6, -2.6, -2.6, -2.65, -2.65, -2.7,
     -2.7, -2.7, -2.75, -2.75, -2.75, -2.8, -2.8, -2.8, -2.85, -2.85,
     -2.85, -2.9, -2.9, -2.9, -2.95, -2.95, -2.95, -3.0, -3.0, -3.0,
     -3.0, -3.05, -3.05, -3.05, -3.05, -3.1, -3.1, -3.1, -3.1, -3.1,
     -3.1],
    [0.0, -0.1, -0.15, -0.25, -0.3, -0.4, -0.45, -0.5, -0.6, -0.65,
     -0.7, -0.75, -0.8, -0.8, -0.85, -0.9, -0.95, -1.0, -1.0, -1.05,
     -1.1, -1.15, -1.15, -1.2, -1.25, -1.25, -1.3, -1.35, -1.35, -1.4,
     -1.4, -1.45, -1.45, -1.5, -1.5, -1.55, -1.55, -1.6, -1.65, -1.65,
     -1.7, -1.75, -1.75, -1.8, -1.85, -1.85, -1.9, -1.95, -1.95, -2.0,
     -2.05, -2.05, -2.1, -2.15, -2.15, -2.2, -2.2, -2.25, -2.25, -2.3,
     -2.3, -2.3, -2.35, -2.35, -2.35, -2.4, -2.4, -2.4, -2.45, -2.45,
     -2.45, -2.45, -2.5, -2.5, -2.5, -2.5, -2.55, -2.55, -2.55, -2.55,
     -2.55, -2.55, -2.6, -2.6, -2.6, -2.6, -2.6, -2.65, -2.65, -2.65,
     -2.65, -2.65, -2.65, -2.7, -2.7, -2.7, -2.7, -2.7, -2.7, -2.7,
     -2.75, -2.75, -2.75, -2.75, -2.75, -2.8, -2.8, -2.85, -2.85, -2.9,
     -2.9, -2.95, -2.95, -2.95, -3.0, -3.0, -3.05, -3.05, -3.05, -3.1,
     -3.1, -3.1, -3.15, -3.15, -3.2, -3.2, -3.2, -3.25, -3.25, -3.25,
     -3.3, -3.3, -3.3, -3.3, -3.35, -3.35, -3.35, -3.35, -3.4, -3.4,
     -3.4, -3.4, -3.4, -3.4, -3.45, -3.45, -3.45, -3.45, -3.45, -3.45,
     -3.45],
    [0.0, -0.15, -0.25, -0.35, -0.5, -0.6, -0.7, -0.75, -0.85, -0.9,
     -1.0, -1.05, -1.1, -1.15, -1.2, -1.25, -1.3, -1.35, -1.4, -1.4,
     -1.45, -1.5, -1.5, -1.55, -1.6, -1.6, -1.65, -1.7, -1.7, -1.75,
     -1.8, -1.8, -1.85, -1.9, -1.9, -1.95, -2.0, -2.0, -2.05, -2.1,
     -2.15, -2.2, -2.2, -2.25, -2.3, -2.3, -2.35, -2.4, -2.4, -2.45,
     -2.5, -2.5, -2.55, -2.55, -2.6, -2.6, -2.6, -2.65, -2.65, -2.7,
     -2.7, -2.7, -2.75, -2.75, -2.75, -2.8, -2.8, -2.8, -2.85, -2.85,
     -2.85, -2.85, -2.9, -2.9, -2.9, -2.9, -2.9, -2.95, -2.95, -2.95,
     -2.95, -2.95, -3.0, -3.0, -3.0, -3.0, -3.0, -3.05, -3.05, -3.05,
     -3.05, -3.05, -3.05, -3.1, -3.1, -3.1, -3.1, -3.1, -3.1, -3.1,
     -3.15, -3.15, -3.15, -3.15, -3.15, -3.2, -3.2, -3.25, -3.25, -3.3,
     -3.3, -3.35, -3.35, -3.35, -3.4, -3.4, -3.45, -3.45, -3.45, -3.5,
     -3.5, -3.5, -3.55, -3.55, -3.6, -3.6, -3.6, -3.65, -3.65, -3.65,
     -3.7, -3.7, -3.7, -3.7, -3.75, -3.75, -3.75, -3.75, -3.8, -3.8,
     -3.8, -3.8, -3.8, -3.8, -3.85, -3.85, -3.85, -3.85, -3.85, -3.85,
     -3.85],
    [0.0, -0.2, -0.35, -0.5, -0.65, -0.8, -0.9, -1.0, -1.1, -1.2,
     -1.3, -1.35, -1.45, -1.5, -1.55, -1.6, -1.7, -1.75, -1.8, -1.85,
     -1.9, -1.95, -1.95, -2.0, -2.05, -2.05, -2.1, -2.15, -2.2, -2.25,
     -2.3, -2.35, -2.35, -2.4, -2.45, -2.5, -2.55, -2.55, -2.6, -2.65,
     -2.7, -2.75, -2.8, -2.85, -2.9, -2.95, -3.0, -3.1, -3.15, -3.2,
     -3.25, -3.3, -3.35, -3.35, -3.35, -3.35, -3.4, -3.4, -3.4, -3.4,
     -3.4, -3.4, -3.4, -3.4, -3.4, -3.4, -3.4, -3.4, -3.4, -3.4,
     -3.4, -3.4, -3.4, -3.4, -3.4, -3.35, -3.35, -3.35, -3.35, -3.35,
     -3.35, -3.35, -3.4, -3.4, -3.4, -3.4, -3.45, -3.45, -3.45, -3.5,
     -3.5, -3.5, -3.55, -3.55, -3.6, -3.6, -3.65, -3.65, -3.7, -3.7,
     -3.75, -3.75, -3.8, -3.8, -3.85, -3.85, -3.9, -3.9, -3.95, -4.0,
     -4.0, -4.05, -4.05, -4.1, -4.1, -4.15, -4.2, -4.2, -4.25, -4.25,
     -4.3, -4.3, -4.35, -4.35, -4.4, -4.4, -4.45, -4.45, -4.45, -4.5,
     -4.5, -4.5, -4.55, -4.55, -4.55, -4.6, -4.6, -4.6, -4.6, -4.65,
     -4.65, -4.65, -4.65, -4.65, -4.7, -4.7, -4.7, -4.7, -4.7, -4.7,
     -4.7],
    [0.0, -0.25, -0.45, -0.6, -0.75, -0.9, -1.0, -1.15, -1.25, -1.4,
     -1.5, -1.55, -1.65, -1.7, -1.8, -1.85, -1.95, -2.0, -2.1, -2.15,
     -2.2, -2.25, -2.3, -2.35, -2.4, -2.45, -2.5, -2.55, -2.6, -2.7,
     -2.75, -2.8, -2.85, -2.95, -3.0, -3.05, -3.1, -3.15, -3.2, -3.3,
     -3.35, -3.4, -3.45, -3.5, -3.55, -3.6, -3.7, -3.75, -3.8, -3.85,
     -3.9, -3.95, -4.0, -4.05, -4.1, -4.1, -4.15, -4.2, -4.25, -4.25,
     -4.3, -4.3, -4.35, -4.35, -4.4, -4.4, -4.4, -4.45, -4.45, -4.5,
     -4.5, -4.5, -4.5, -4.55, -4.55, -4.55, -4.55, -4.6, -4.6, -4.6,
     -4.6, -4.6, -4.65, -4.65, -4.7, -4.7, -4.7, -4.75, -4.75, -4.8,
     -4.8, -4.8, -4.85, -4.85, -4.9, -4.95, -4.95, -5.0, -5.0, -5.05,
     -5.1, -5.1, -5.15, -5.15, -5.2, -5.25, -5.3, -5.3, -5.35, -5.4,
     -5.45, -5.45, -5.5, -5.55, -5.6, -5.6, -5.65, -5.7, -5.75, -5.75,
     -5.8, -5.8, -5.85, -5.85, -5.9, -5.9, -5.95, -5.95, -5.95, -6.0,
     -6.0, -6.0, -6.05, -6.05, -6.1, -6.1, -6.1, -6.15, -6.15, -6.2,
     -6.2, -6.2, -6.2, -6.25, -6.25, -6.25, -6.25, -6.3, -6.3, -6.3,
     -6.3],
    [0.0, -0.25, -0.45, -0.65, -0.8, -0.95, -1.1, -1.25, -1.35, -1.5,
     -1.6, -1.7, -1.75, -1.85, -1.95, -2.0, -2.1, -2.15, -2.25, -2.3,
     -2.4, -2.45, -2.5, -2.55, -2.6, -2.65, -2.7, -2.75, -2.8, -2.85,
     -2.9, -2.95, -3.0, -3.1, -3.15, -3.2, -3.25, -3.35, -3.4, -3.45,
     -3.55, -3.6, -3.65, -3.7, -3.75, -3.8, -3.85, -3.9, -3.95, -4.0,
     -4.05, -4.1, -4.15, -4.2, -4.2, -4.25, -4.3, -4.3, -4.35, -4.35,
     -4.4, -4.45, -4.45, -4.5, -4.5, -4.55, -4.55, -4.6, -4.6, -4.6,
     -4.65, -4.65, -4.7, -4.7, -4.7, -4.75, -4.75, -4.8, -4.8, -4.8,
     -4.85, -4.85, -4.9, -4.9, -4.9, -4.95, -4.95, -5.0, -5.0, -5.0,
     -5.05, -5.05, -5.1, -5.1, -5.15, -5.15, -5.2, -5.2, -5.25, -5.25,
     -5.3, -5.3, -5.35, -5.35, -5.4, -5.45, -5.5, -5.5, -5.55, -5.6,
     -5.65, -5.7, -5.75, -5.8, -5.85, -5.9, -5.9, -5.95, -6.0, -6.05,
     -6.1, -6.15, -6.15, -6.2, -6.25, -6.25, -6.3, -6.3, -6.35, -6.35,
     -6.4, -6.4, -6.45, -6.45, -6.45, -6.5, -6.5, -6.5, -6.55, -6.55,
     -6.55, -6.6, -6.6, -6.6, -6.6, -6.65, -6.65, -6.65, -6.7, -6.7,
     -6.7],
]

groups = [gnd_rising, gnd_falling, vcc_rising, vcc_falling]
labels = ['Burn GND->VCC - Rising Transition',
          'Burn GND->VCC - Falling Transition',
          'Burn VCC->VCC - Rising Transition',
          'Burn VCC->VCC - Falling Transition']
colors = ['b', 'g', 'c', 'm']
burn_switch_hour = 40

plt.rcParams['font.size'] = 20

fig = plt.figure(figsize=(12.28, 4.97), dpi=100)
ax = fig.add_axes([107 / 1228, 60 / 497, 1120 / 1228, 400 / 497])

# One dotted trace per net, first net of each group carries the legend label
for nets, color, label in zip(groups, colors, labels):
    for i, net in enumerate(nets):
        hours = np.arange(len(net))
        ax.plot(hours, net, 'o', color=color, markersize=4.8, markeredgewidth=0,
                label=label if i == 0 else None)

ax.axvline(burn_switch_hour, color='tab:blue', linewidth=2.2)

ax.set_xlim(0, 150)
ax.set_ylim(-30, 0)
ax.set_xticks(np.arange(0, 141, 20))
ax.set_yticks(np.arange(-30, 1, 5))
ax.grid(True, color='#e6e6e6', linewidth=1)
ax.set_axisbelow(True)
for spine in ax.spines.values():
    spine.set_color('#aaaaaa')
ax.tick_params(color='#aaaaaa', labelsize=20)

ax.set_title('16 Nets \u2014 10000ps Delay Each \u2014 60 Celsius Ambient \u2014 PYNQ-Z2 \u2014 150 Hours',
             fontsize=20, pad=4)
ax.set_xlabel('Hours', fontsize=20, labelpad=-3)
ax.set_ylabel('\u0394ps (KR Smoothing)', fontsize=17)
ax.legend(loc='lower left', fontsize=15, markerscale=0.7)

fig.savefig('out.png', dpi=100)
